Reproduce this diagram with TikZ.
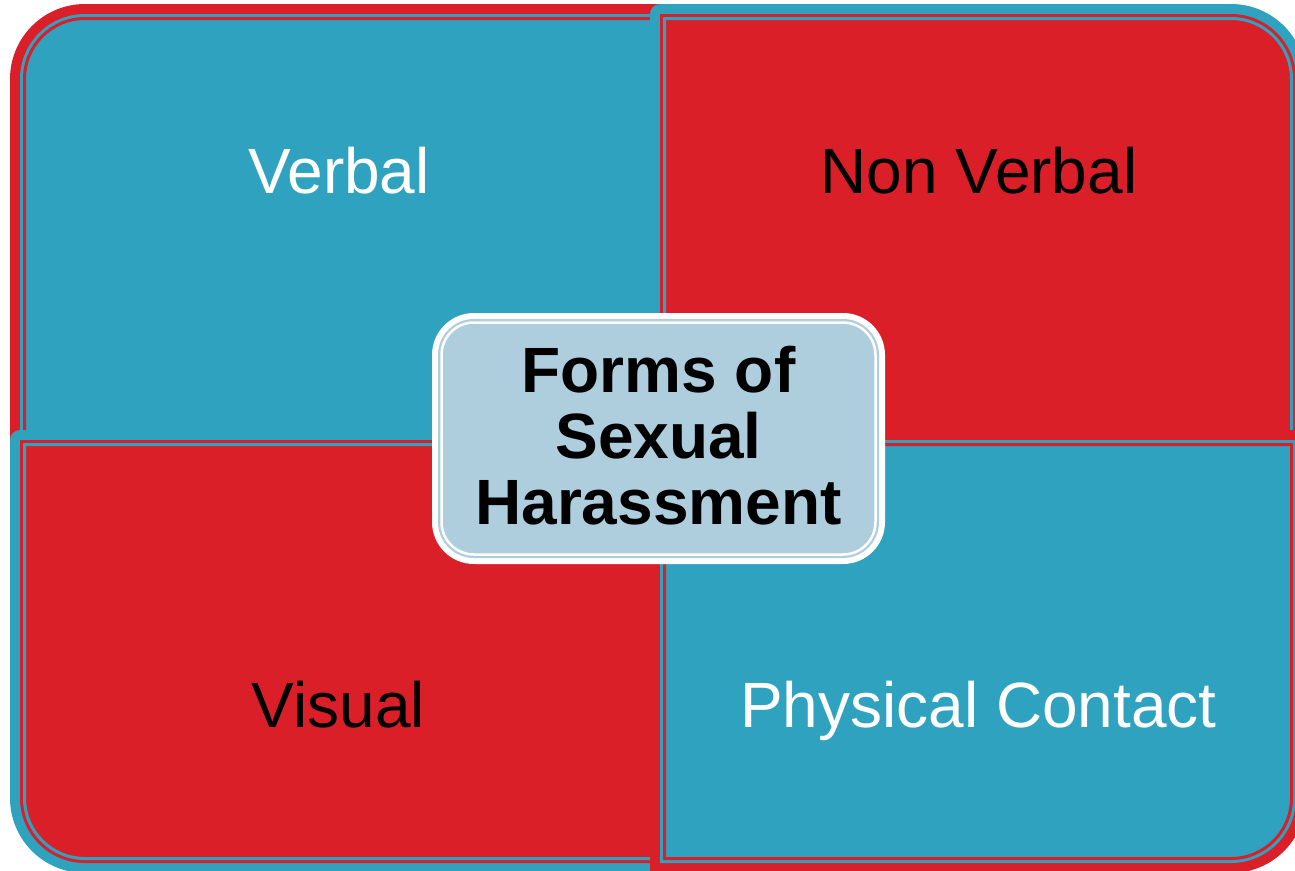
\documentclass[tikz,border=0pt]{standalone}
\usepackage{fontspec}
\setmainfont{Liberation Sans}
\definecolor{qteal}{RGB}{46,162,191}
\definecolor{qred}{RGB}{218,31,40}
\definecolor{qlight}{RGB}{174,206,222}
\newcommand\setrect[8]{\def\qxa{#1}\def\qya{#2}\def\qxb{#3}\def\qyb{#4}\def\qra{#5}\def\qrb{#6}\def\qrc{#7}\def\qrd{#8}}
\newcommand\rrpath[2]{%
  \pgfmathsetmacro\qAx{\qxa+#1}\pgfmathsetmacro\qAy{\qya+#1}%
  \pgfmathsetmacro\qBx{\qxb-#1}\pgfmathsetmacro\qBy{\qyb-#1}%
  \pgfmathsetmacro\qRa{max(\qra-#1,0.01)}\pgfmathsetmacro\qRb{max(\qrb-#1,0.01)}%
  \pgfmathsetmacro\qRc{max(\qrc-#1,0.01)}\pgfmathsetmacro\qRd{max(\qrd-#1,0.01)}%
  \path[#2] (\qAx,\qAy+\qRa) arc[start angle=180,end angle=270,radius=\qRa]
    -- (\qBx-\qRb,\qAy) arc[start angle=270,end angle=360,radius=\qRb]
    -- (\qBx,\qBy-\qRc) arc[start angle=0,end angle=90,radius=\qRc]
    -- (\qAx+\qRd,\qBy) arc[start angle=90,end angle=180,radius=\qRd] -- cycle;}
\newcommand\quadrant[2]{% band colour, fill colour
  \rrpath{0}{fill=#1}%
  \rrpath{10}{fill=#2}%
  \rrpath{14.5}{draw=#1,line width=3pt}}
\tikzset{
  qtxt/.style={font=\fontsize{64}{66}\selectfont, anchor=base, inner sep=0pt},
  ctxt/.style={font=\fontsize{64}{66}\selectfont\bfseries, align=center, inner sep=0pt, text=black}
}
\begin{document}
\begin{tikzpicture}[x=1pt,y=-1pt]
\useasboundingbox (0,0) rectangle (1295,870);
\fill[white] (0,0) rectangle (1295,870);
\clip (0,0) rectangle (1295,870);
% top left
\setrect{10}{4}{680}{460}{75}{0}{0}{0}
\quadrant{qred}{qteal}
% top right
\setrect{650}{4}{1306}{460}{10}{75}{0}{0}
\quadrant{qteal}{qred}
% bottom left
\setrect{10}{430}{680}{873}{10}{0}{0}{75}
\quadrant{qteal}{qred}
% bottom right
\setrect{650}{430}{1306}{873}{10}{0}{75}{0}
\quadrant{qred}{qteal}
% centre box
\setrect{432}{313}{885}{564}{42}{42}{42}{42}
\rrpath{0}{fill=white}
\rrpath{6}{fill=qlight}
\rrpath{9.5}{draw=white,line width=2.5pt}
% texts
\node[qtxt, text=white] (verbal) at (339,193) {Verbal};
\node[qtxt, text=black] (nonverbal) at (979,193) {Non Verbal};
\node[qtxt, text=black] (visual) at (338.5,727) {Visual};
\node[qtxt, text=white] (physical) at (978.5,727) {Physical Contact};
\node[ctxt] (title) at (658.5,435.7) {Forms of\\Sexual\\Harassment};
\end{tikzpicture}
\end{document}
